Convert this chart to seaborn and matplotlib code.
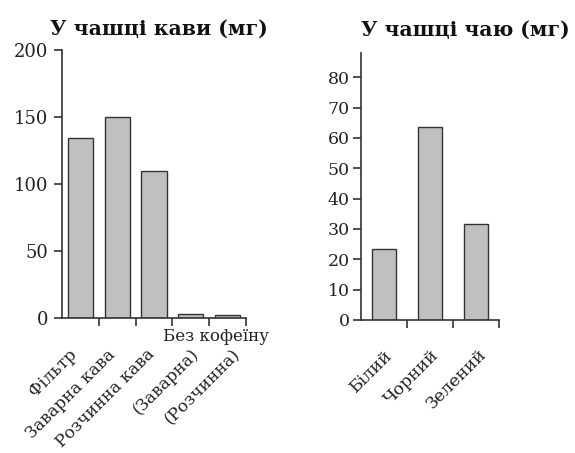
import numpy as np
import pandas as pd
import matplotlib
matplotlib.use("Agg")
import matplotlib.pyplot as plt
import matplotlib.transforms as mtransforms
import seaborn as sns

# ---- data ----
coffee_labels = ["Фільтр", "Заварна кава", "Розчинна кава", "(Заварна)", "(Розчинна)"]
coffee_values = [134, 150, 110, 3, 2.5]
coffee_group_label = "Без кофеїну"
coffee_title = "У чашці кави (мг)"
coffee_yticks = [0, 50, 100, 150, 200]

tea_labels = ["Білий", "Чорний", "Зелений"]
tea_values = [23.5, 63.5, 31.5]
tea_title = "У чашці чаю (мг)"
tea_yticks = [0, 10, 20, 30, 40, 50, 60, 70, 80]

sns.set_theme(style="white")
plt.rcParams["font.family"] = ["DejaVu Serif"]

W, H = 575, 453
fig = plt.figure(figsize=(W / 100, H / 100), dpi=100)

def px_axes(x0, y0, x1, y1):
    return fig.add_axes([x0 / W, 1 - y1 / H, (x1 - x0) / W, (y1 - y0) / H])

edge = "#333333"
bar_color = "#c0c0c0"

def style(ax, labels, yticks, ylim, ysize, ypad, label_shift_px, xpad, xsize):
    n = len(labels)
    ax.set_xlim(-0.5, n - 0.5)
    ax.set_ylim(*ylim)
    for s in ["top", "right"]:
        ax.spines[s].set_visible(False)
    for s in ["left", "bottom"]:
        ax.spines[s].set_color(edge)
        ax.spines[s].set_linewidth(1.2)
    ax.set_yticks(yticks)
    ax.set_yticklabels([str(v) for v in yticks], fontsize=ysize, color="#222222")
    ax.tick_params(axis="y", direction="out", length=6, width=1.2, color=edge, pad=ypad, left=True)
    ax.set_xticks(range(n))
    ax.tick_params(axis="x", which="major", length=0, pad=xpad)
    ax.set_xticks(np.arange(0.5, n, 1.0), minor=True)
    ax.tick_params(axis="x", which="minor", direction="out", length=6, width=1.2,
                   color=edge, bottom=True)
    ax.set_xticklabels(labels, rotation=45, ha="right", rotation_mode="anchor",
                       fontsize=xsize, color="#222222")
    for lab, dx in zip(ax.get_xticklabels(), label_shift_px):
        off = mtransforms.ScaledTranslation(dx / 100, 0, fig.dpi_scale_trans)
        lab.set_transform(lab.get_transform() + off)
    ax.set_xlabel("")
    ax.set_ylabel("")

# coffee
ax1 = px_axes(62, 50, 246, 318)
df1 = pd.DataFrame({"cat": coffee_labels, "val": coffee_values})
sns.barplot(data=df1, x="cat", y="val", ax=ax1, color=bar_color, edgecolor=edge,
            linewidth=1.0, width=0.68, saturation=1)
style(ax1, coffee_labels, coffee_yticks, (0, 200), 13, 4, [-12, -11, -8, -1, 4], 20, 12.2)
trans = mtransforms.blended_transform_factory(ax1.transData, ax1.transAxes)
ax1.text(3.68, -0.068, coffee_group_label, transform=trans, ha="center", va="center",
         fontsize=12, color="#222222")

# tea
ax2 = px_axes(361, 53, 499, 320)
df2 = pd.DataFrame({"cat": tea_labels, "val": tea_values})
sns.barplot(data=df2, x="cat", y="val", ax=ax2, color=bar_color, edgecolor=edge,
            linewidth=1.0, width=0.53, saturation=1)
style(ax2, tea_labels, tea_yticks, (0, 88), 12.5, 2, [0, 0, 1], 19, 12.5)

fig.text(159 / W, 1 - 29 / H, coffee_title, ha="center", va="center",
         fontsize=14.7, fontweight="bold", color="#111111")
fig.text(465 / W, 1 - 30 / H, tea_title, ha="center", va="center",
         fontsize=14.6, fontweight="bold", color="#111111")

fig.savefig("out.png", dpi=100)
